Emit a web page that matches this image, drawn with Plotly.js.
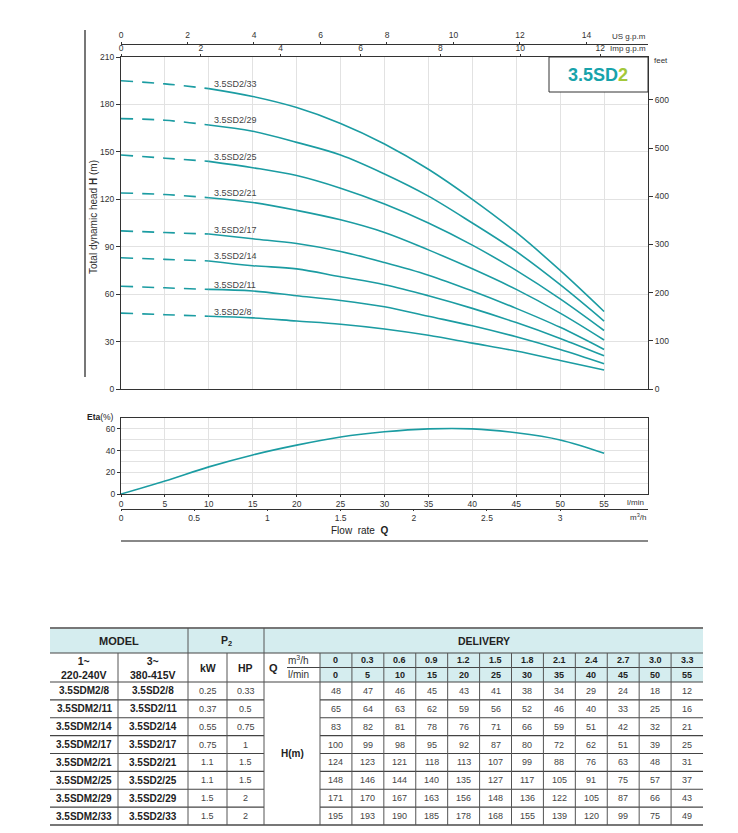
<!DOCTYPE html>
<html>
<head>
<meta charset="utf-8">
<script src="https://cdn.plot.ly/plotly-3.0.1.min.js"></script>
<style>html,body{margin:0;padding:0;background:#fff;}#chart{width:738px;height:833px;}</style>
</head>
<body>
<div id="chart"></div>
<script>
// ---------------- DATA ----------------
const flowLmin = [0, 5, 10, 15, 20, 25, 30, 35, 40, 45, 50, 55];
const flowM3h = ['0', '0.3', '0.6', '0.9', '1.2', '1.5', '1.8', '2.1', '2.4', '2.7', '3.0', '3.3'];
const models1ph = ['3.5SDM2/8', '3.5SDM2/11', '3.5SDM2/14', '3.5SDM2/17', '3.5SDM2/21', '3.5SDM2/25', '3.5SDM2/29', '3.5SDM2/33'];
const models3ph = ['3.5SD2/8', '3.5SD2/11', '3.5SD2/14', '3.5SD2/17', '3.5SD2/21', '3.5SD2/25', '3.5SD2/29', '3.5SD2/33'];
const powerKW = [0.25, 0.37, 0.55, 0.75, 1.1, 1.1, 1.5, 1.5];
const powerHP = [0.33, 0.5, 0.75, 1, 1.5, 1.5, 2, 2];
const head_8  = [48, 47, 46, 45, 43, 41, 38, 34, 29, 24, 18, 12];
const head_11 = [65, 64, 63, 62, 59, 56, 52, 46, 40, 33, 25, 16];
const head_14 = [83, 82, 81, 78, 76, 71, 66, 59, 51, 42, 32, 21];
const head_17 = [100, 99, 98, 95, 92, 87, 80, 72, 62, 51, 39, 25];
const head_21 = [124, 123, 121, 118, 113, 107, 99, 88, 76, 63, 48, 31];
const head_25 = [148, 146, 144, 140, 135, 127, 117, 105, 91, 75, 57, 37];
const head_29 = [171, 170, 167, 163, 156, 148, 136, 122, 105, 87, 66, 43];
const head_33 = [195, 193, 190, 185, 178, 168, 155, 139, 120, 99, 75, 49];
const heads = [head_8, head_11, head_14, head_17, head_21, head_25, head_29, head_33];
const etaPct = [0, 12, 25, 36, 45, 52.5, 57.3, 60, 60, 56.4, 49.8, 37.5];

// ---------------- STYLE / LAYOUT CONSTANTS ----------------
const W = 738, Hh = 833;
const FONT = 'Liberation Sans, Arial, sans-serif';
const TEAL = '#1b9ca2';
const TXT = '#333';
const GRID = '#e2e2e2';
const AX = '#333';
const fy = p => 1 - p / Hh;
const fx = p => p / W;

const traces = [];
heads.forEach((h) => {
  traces.push({x: flowLmin.slice(0, 3), y: h.slice(0, 3), xaxis: 'x', yaxis: 'y', mode: 'lines',
    line: {color: TEAL, width: 1.6, dash: '12px,9px', shape: 'spline', smoothing: 1}, hoverinfo: 'skip', showlegend: false});
  traces.push({x: flowLmin.slice(2), y: h.slice(2), xaxis: 'x', yaxis: 'y', mode: 'lines',
    line: {color: TEAL, width: 1.6, shape: 'spline', smoothing: 1}, hoverinfo: 'skip', showlegend: false});
});
traces.push({x: flowLmin, y: etaPct, xaxis: 'x4', yaxis: 'y3', mode: 'lines',
  line: {color: TEAL, width: 1.6, shape: 'spline', smoothing: 1}, hoverinfo: 'skip', showlegend: false});
const ghost = (xa, ya) => ({x: [0], y: [0], xaxis: xa, yaxis: ya, mode: 'markers',
  marker: {size: 1, opacity: 0}, hoverinfo: 'skip', showlegend: false});
traces.push(ghost('x2', 'y'), ghost('x3', 'y'), ghost('x', 'y2'), ghost('x5', 'y3'), ghost('x6', 'y6'));

const tickf = {family: FONT, size: 8.5, color: TXT};
const mainXDom = [fx(121), fx(648)];

const layout = {
  width: W, height: Hh, autosize: false,
  margin: {l: 0, r: 0, t: 0, b: 0, pad: 0},
  paper_bgcolor: '#fff', plot_bgcolor: 'rgba(0,0,0,0)',
  font: {family: FONT, color: TXT},
  showlegend: false,
  xaxis: {domain: mainXDom, anchor: 'y', range: [0, 60], dtick: 5, showticklabels: false,
    showgrid: true, gridcolor: GRID, showline: true, linecolor: AX, linewidth: 1, ticks: '', zeroline: false, fixedrange: true},
  yaxis: {domain: [fy(389), fy(57)], anchor: 'x', range: [0, 210], dtick: 30, showgrid: true, gridcolor: GRID,
    showline: true, linecolor: AX, ticks: 'outside', ticklen: 4, tickcolor: AX, tickfont: tickf, zeroline: false, fixedrange: true},
  yaxis2: {overlaying: 'y', side: 'right', anchor: 'x', range: [0, 210 / 0.3048], dtick: 100, showgrid: false,
    showline: true, linecolor: AX, ticks: 'outside', ticklen: 4, tickcolor: AX, tickfont: tickf, zeroline: false, fixedrange: true},
  xaxis2: {overlaying: 'x', side: 'top', anchor: 'y', range: [0, 60 / 4.54609], dtick: 2, showgrid: false,
    showline: true, linecolor: AX, ticks: 'outside', ticklen: 2, tickcolor: AX, tickfont: tickf, zeroline: false, fixedrange: true},
  xaxis3: {overlaying: 'x', side: 'top', anchor: 'free', position: fy(43.5), range: [0, 60 / 3.78541], dtick: 2, showgrid: false,
    showline: true, linecolor: AX, ticks: 'outside', ticklen: 2, tickcolor: AX, tickfont: tickf, zeroline: false, fixedrange: true},
  xaxis4: {domain: mainXDom, anchor: 'y3', range: [0, 60], tickvals: flowLmin, showgrid: true, gridcolor: GRID,
    showline: true, mirror: true, linecolor: AX, ticks: 'outside', ticklen: 2, tickcolor: AX, tickfont: tickf, zeroline: false, fixedrange: true},
  yaxis3: {domain: [fy(494), fy(418)], anchor: 'x4', range: [0, 70], tickvals: [0, 20, 40, 60], showgrid: true, gridcolor: GRID,
    minor: {dtick: 10, showgrid: true, gridcolor: GRID, ticks: ''},
    showline: true, mirror: true, linecolor: AX, ticks: 'outside', ticklen: 3, tickcolor: AX, tickfont: tickf, zeroline: false, fixedrange: true},
  xaxis5: {overlaying: 'x4', side: 'bottom', anchor: 'free', position: fy(509), range: [0, 3.6],
    tickvals: [0, 0.5, 1, 1.5, 2, 2.5, 3], showgrid: false, showline: true, linecolor: AX, ticks: 'outside', ticklen: 1,
    tickcolor: AX, tickfont: tickf, zeroline: false, fixedrange: true},
  xaxis6: {domain: [0, 1], anchor: 'y6', range: [0, W], visible: false, fixedrange: true},
  yaxis6: {domain: [0, 1], anchor: 'x6', range: [Hh, 0], visible: false, fixedrange: true},
  shapes: [],
  annotations: []
};

const A = layout.annotations, S = layout.shapes;
const ann = (x, y, text, opt) => A.push(Object.assign({xref: 'x6', yref: 'y6', x: x, y: y, text: text, showarrow: false,
  font: {family: FONT, size: 9, color: '#444'}, xanchor: 'center', yanchor: 'middle'}, opt || {}));
const line = (x0, y0, x1, y1, color, width) => S.push({type: 'line', xref: 'x6', yref: 'y6', x0, y0, x1, y1,
  line: {color: color, width: width}});
const rect = (x0, y0, x1, y1, fill, lc, lw) => S.push({type: 'rect', xref: 'x6', yref: 'y6', x0, y0, x1, y1,
  fillcolor: fill, line: {color: lc || 'rgba(0,0,0,0)', width: lw || 0}, layer: 'above'});

// curve labels
heads.forEach((h, i) => {
  A.push({xref: 'x', yref: 'y', x: 10.4, y: h[2], yshift: 4.5, xanchor: 'left', yanchor: 'middle', showarrow: false,
    text: models3ph[i], font: {family: FONT, size: 9, color: '#444'}});
});

// axis unit labels and titles
const small = {family: FONT, size: 8, color: TXT};
ann(648, 36, 'US g.p.m', {xanchor: 'right', font: small});
ann(648, 48.5, 'Imp g.p.m', {xanchor: 'right', font: small});
ann(652, 60, 'feet', {xanchor: 'left', font: small});
ann(646, 502, 'l/min', {xanchor: 'right', font: small});
ann(648, 517, 'm<sup>3</sup>/h', {xanchor: 'right', font: small});
ann(93, 217, 'Total dynamic head <b>H</b> (m)', {textangle: -90, font: {family: FONT, size: 10, color: TXT}});
ann(116, 417, '<b>Eta</b>(%)', {xanchor: 'right', font: {family: FONT, size: 8.5, color: '#222'}});
ann(359, 530.5, 'Flow  rate  <b>Q</b>', {font: {family: FONT, size: 10, color: '#222'}});

// decorative lines and model box
line(85, 30, 85, 377, '#777', 2);
line(121, 541, 648, 541, '#888', 2);
rect(549, 57, 648, 92, '#fff', AX, 1);
ann(598, 75, '<b><span style="color:#17a3ab">3.5SD</span><span style="color:#a3c83a">2</span></b>',
  {font: {family: FONT, size: 18, color: '#17a3ab'}});

// ---------------- TABLE ----------------
const tL = 50, tR = 703;
const dW = (tR - 320) / flowLmin.length;
const dBounds = flowLmin.map((_, k) => 320 + k * dW).concat([tR]);
const rTop = 628, rH1 = 653, rMid = 667.5, rH2 = 682, rBot = 825;
const rowH = (rBot - rH2) / heads.length;
const HEADFILL = '#d5edef';

rect(tL, rTop, tR, rH1, HEADFILL);
rect(320, rH1, tR, rH2, HEADFILL);
line(tL, rTop, tR, rTop, '#777', 2);
line(tL, rH1, tR, rH1, '#444', 1);
line(287, rMid, tR, rMid, '#444', 1);
line(tL, rH2, tR, rH2, '#444', 1.2);
for (let i = 1; i < heads.length; i++) {
  const y = rH2 + i * rowH;
  line(tL, y, 264, y, '#444', 1.2);
  line(320, y, tR, y, '#444', 1.2);
}
line(tL, rBot, tR, rBot, '#777', 2);
[188, 264].forEach(x => line(x, rTop, x, rBot, '#555', 1));
[118, 227, 320].concat(dBounds.slice(1, -1)).forEach(x => line(x, rH1, x, rBot, '#555', 1));

const cen = (a, b) => (a + b) / 2;
const hb = {family: FONT, size: 10.5, color: '#222'};
const bnum = {family: FONT, size: 9, color: '#222'};
ann(cen(tL, 188), cen(rTop, rH1), '<b>MODEL</b>', {font: {family: FONT, size: 11, color: '#222'}});
ann(cen(188, 264), cen(rTop, rH1), '<b>P<sub>2</sub></b>', {font: hb});
ann(cen(264, tR), cen(rTop, rH1), '<b>DELIVERY</b>', {font: hb});
ann(cen(tL, 118), cen(rH1, rH2), '<b>1~<br>220-240V</b>', {font: hb});
ann(cen(118, 188), cen(rH1, rH2), '<b>3~<br>380-415V</b>', {font: hb});
ann(cen(188, 227), cen(rH1, rH2), '<b>kW</b>', {font: hb});
ann(cen(227, 264), cen(rH1, rH2), '<b>HP</b>', {font: hb});
ann(273, cen(rH1, rH2), '<b>Q</b>', {font: {family: FONT, size: 11, color: '#222'}});
ann(298, cen(rH1, rMid), 'm<sup>3</sup>/h', {font: {family: FONT, size: 10, color: TXT}});
ann(298, cen(rMid, rH2), 'l/min', {font: {family: FONT, size: 10, color: TXT}});
flowM3h.forEach((q, k) => ann(cen(dBounds[k], dBounds[k + 1]), cen(rH1, rMid), '<b>' + q + '</b>', {font: bnum}));
flowLmin.forEach((q, k) => ann(cen(dBounds[k], dBounds[k + 1]), cen(rMid, rH2), '<b>' + q + '</b>', {font: bnum}));
ann(cen(264, 320), cen(rH2, rBot), '<b>H(m)</b>', {font: {family: FONT, size: 10, color: '#222'}});
heads.forEach((h, i) => {
  const y = rH2 + (i + 0.5) * rowH;
  ann(cen(tL, 118), y, '<b>' + models1ph[i] + '</b>', {font: {family: FONT, size: 10, color: '#222'}});
  ann(cen(118, 188), y, '<b>' + models3ph[i] + '</b>', {font: {family: FONT, size: 10, color: '#222'}});
  ann(cen(188, 227), y, String(powerKW[i]));
  ann(cen(227, 264), y, String(powerHP[i]));
  h.forEach((v, k) => ann(cen(dBounds[k], dBounds[k + 1]), y, String(v)));
});

Plotly.newPlot('chart', traces, layout, {staticPlot: true, displayModeBar: false});
</script>
</body>
</html>
